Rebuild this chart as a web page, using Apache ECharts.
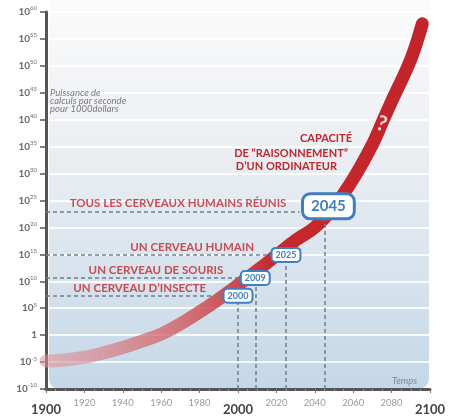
<!DOCTYPE html>
<html><head><meta charset="utf-8">
<script src="https://cdn.jsdelivr.net/npm/echarts@6/dist/echarts.min.js"></script>
<style>html,body{margin:0;padding:0;background:#fff}#c{width:450px;height:416px}</style>
</head><body><div id="c"></div>
<script>
// Curve: years and log10(computations per second per $1000)
const curveYears = [1900,1910,1920,1930,1940,1950,1960,1970,1980,1990,2000,2010,2020,2030,2040,2050,2060,2070,2075,2080,2090,2096];
const curveLog   = [-4.8,-4.6,-4.1,-3.3,-2.3,-1.1,0.2,2.1,4.3,6.7,9.3,12.0,14.8,17.6,20.0,23.8,29.0,35.4,39.4,43.4,51.2,57.8];
// Milestones
const milestoneYears  = [2000, 2009, 2025, 2045];
const milestoneLevels = [7.3, 10.6, 14.9, 23.0];
const milestoneNames  = ["UN CERVEAU D\u2019INSECTE", "UN CERVEAU DE SOURIS", "UN CERVEAU HUMAIN", "TOUS LES CERVEAUX HUMAINS R\u00c9UNIS"];
// Axis ticks
const yExponents = [-10,-5,0,5,10,15,20,25,30,35,40,45,50,55,60];
const xTickYears = [1900,1920,1940,1960,1980,2000,2020,2040,2060,2080,2100];
const bigYears   = [1900, 2000, 2100];
const questionYear = 2075;

const RED = '#c1272d', BLUE = '#3f7fc0', DASH = '#6f7f90';
const FONT = 'Lato, "Open Sans", sans-serif';

const chart = echarts.init(document.getElementById('c'), null, {renderer:'canvas'});

const hLines = milestoneYears.map((y,i)=>({coords:[[xTickYears[0], milestoneLevels[i]], [y - (i===3 ? 13 : 7), milestoneLevels[i]]]}));
const vLines = milestoneYears.map((y,i)=>({coords:[[y, yExponents[0]], [y, milestoneLevels[i]]]}));

const smallBoxes = milestoneYears.slice(0,3).map((y,i)=>[y, milestoneLevels[i]]);
const bigBoxes = [[milestoneYears[3], milestoneLevels[3]]];
const names = milestoneYears.map((y,i)=>({
  value:[y, milestoneLevels[i]],
  label:{distance: i===3 ? 38 : 32, formatter: milestoneNames[i]}
}));
const qi = curveYears.indexOf(questionYear);
const questionPoint = [[curveYears[qi], curveLog[qi]]];

const boxLabel = {show:true, position:'inside', formatter:p=>String(p.value[0]), color:BLUE, fontWeight:'bold', fontFamily:FONT,
  backgroundColor:'#ffffff', borderColor:BLUE, opacity:1, textBorderWidth:0};

chart.setOption({
  animation:false,
  backgroundColor:'#fff',
  grid:{left:46, right:20, top:12, bottom:23, containLabel:false},
  graphic:[
    {type:'rect', z:-10, silent:true, shape:{x:49, y:0, width:380, height:389, r:[0,0,10,10]},
     style:{fill:new echarts.graphic.LinearGradient(0,0,0,1,[
       {offset:0,color:'#fbfbfc'},{offset:0.3,color:'#eff1f4'},{offset:0.6,color:'#dee7ef'},{offset:1,color:'#c4d7e8'}])}},
    {type:'text', z:5, left:50, top:88, style:{text:'Puissance de\ncalculs par seconde\npour 1000dollars', fill:'#7a7a7a', fontSize:9.5, lineHeight:8, fontStyle:'italic', fontFamily:FONT}},
    {type:'text', z:5, left:392, top:376, style:{text:'Temps', fill:'#7a8796', fontSize:9.5, fontStyle:'italic', fontFamily:FONT}},
    {type:'text', z:5, right:98, top:133, style:{text:'CAPACIT\u00c9', fill:RED, fontSize:11, fontWeight:'bold', fontFamily:FONT, textAlign:'right'}},
    {type:'text', z:5, right:102, top:148, style:{text:'DE \u201cRAISONNEMENT\u201d', fill:RED, fontSize:11, fontWeight:'bold', fontFamily:FONT, textAlign:'right'}},
    {type:'text', z:5, right:113, top:161, style:{text:'D\u2019UN ORDINATEUR', fill:RED, fontSize:11, fontWeight:'bold', fontFamily:FONT, textAlign:'right'}}
  ],
  xAxis:{type:'value', min:1900, max:2100, interval:20,
    axisLine:{show:true, onZero:false, lineStyle:{color:'#555', width:3}},
    axisTick:{show:true, length:4, lineStyle:{color:'#777', width:1}},
    minorTick:{show:true, splitNumber:4, length:2, lineStyle:{color:'#999'}},
    splitLine:{show:false},
    axisLabel:{margin:6, fontFamily:FONT,
      formatter:v => bigYears.includes(v) ? '{big|'+v+'}' : '{small|'+v+'}',
      rich:{big:{fontSize:13, fontWeight:'bold', color:'#444', padding:[8,0,0,0], fontFamily:FONT},
            small:{fontSize:9.5, color:'#999', padding:[3,0,0,0], fontFamily:FONT}}}
  },
  yAxis:{type:'value', min:-10, max:60, interval:5,
    axisLine:{show:true, onZero:false, lineStyle:{color:'#555', width:3}},
    axisTick:{show:true, length:6, lineStyle:{color:'#555', width:1.5}},
    splitLine:{show:true, lineStyle:{color:'rgba(255,255,255,0.85)', width:2}},
    axisLabel:{margin:9, fontFamily:FONT,
      formatter:v => v===0 ? '{b|1}' : '{b|10}{s|'+v+'}',
      rich:{b:{fontSize:10, fontWeight:'bold', color:'#6a6a6a', fontFamily:FONT},
            s:{fontSize:6, color:'#6a6a6a', verticalAlign:'bottom', padding:[0,0,7,0], fontFamily:FONT}}}
  },
  series:[
    {type:'line', name:'curve', z:3, smooth:0.4, showSymbol:false, symbol:'none',
     data:curveYears.map((y,i)=>[y, curveLog[i]]),
     lineStyle:{width:13, cap:'round', join:'round',
       color:new echarts.graphic.LinearGradient(0,0,1,0,[
         {offset:0,color:'rgba(222,150,155,0.55)'},{offset:0.35,color:'rgba(210,95,100,0.8)'},{offset:0.6,color:'#c5282d'},{offset:1,color:'#c1252b'}])}},
    {type:'scatter', z:5, symbolSize:0, data:questionPoint, silent:true,
     label:{show:true, position:'inside', formatter:'?', color:'#fff', fontSize:21, fontWeight:'bold', fontFamily:FONT, offset:[0,1], rotate:-18}},
    {type:'lines', coordinateSystem:'cartesian2d', z:4, silent:true, data:hLines,
     lineStyle:{color:DASH, width:1.5, type:[4,3], opacity:1}},
    {type:'lines', coordinateSystem:'cartesian2d', z:4, silent:true, data:vLines,
     lineStyle:{color:DASH, width:1.5, type:[4,3], opacity:1}},
    {type:'scatter', z:6, symbolSize:0, data:names, silent:true,
     label:{show:true, position:'left', offset:[0,-8], color:RED, fontSize:11.5, fontWeight:'bold', fontFamily:FONT}},
    {type:'scatter', z:8, symbolSize:0, data:smallBoxes, silent:true,
     label:Object.assign({}, boxLabel, {fontSize:9, padding:[2,3,1,3], borderWidth:2, borderRadius:3})},
    {type:'scatter', z:10, symbolSize:0, data:bigBoxes, silent:true,
     label:Object.assign({}, boxLabel, {fontSize:15, padding:[4,7,3,7], borderWidth:3, borderRadius:6, offset:[4,-5]})}
  ]
});
</script></body></html>
